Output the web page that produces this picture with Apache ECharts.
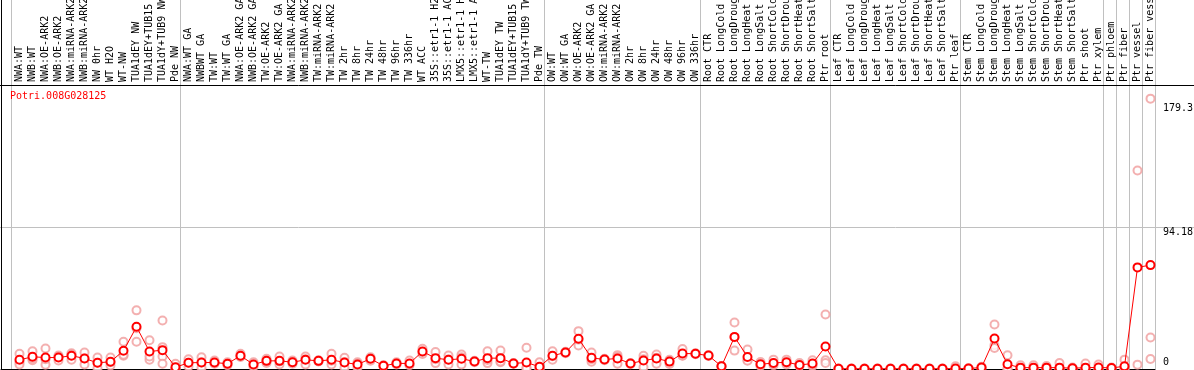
<!DOCTYPE html>
<html><head><meta charset="utf-8">
<script src="https://cdn.jsdelivr.net/npm/echarts@6/dist/echarts.min.js"></script>
<style>html,body{margin:0;padding:0;background:#fff}#c{width:1194px;height:370px}</style>
</head><body><div id="c"></div>
<script>
const geneId = 'Potri.008G028125';
const categories = [
  'NWA:WT','NWB:WT','NWA:OE-ARK2','NWB:OE-ARK2','NWA:miRNA-ARK2','NWB:miRNA-ARK2','NW 0hr','WT H2O','WT-NW','TUA1dEY NW','TUA1dEY+TUB15','TUA1dY+TUB9 NW','Pde NW',
  'NWA:WT GA','NWBWT GA','TW:WT','TW:WT GA','NWA:OE-ARK2 GA','NWB:OE-ARK2 GA','TW:OE-ARK2','TW:OE-ARK2 GA','NWA:miRNA-ARK2 GA','NWB:miRNA-ARK2 GA','TW:miRNA-ARK2','TW:miRNA-ARK2','TW 2hr','TW 8hr','TW 24hr','TW 48hr','TW 96hr','TW 336hr','WT ACC','35S::etr1-1 H2O','35S::etr1-1 ACC','LMX5::etr1-1 H2O','LMX5::etr1-1 ACC','WT-TW','TUA1dEY TW','TUA1dEY+TUB15','TUA1dY+TUB9 TW','Pde TW',
  'OW:WT','OW:WT GA','OW:OE-ARK2','OW:OE-ARK2 GA','OW:miRNA-ARK2','OW:miRNA-ARK2','OW 2hr','OW 8hr','OW 24hr','OW 48hr','OW 96hr','OW 336hr',
  'Root CTR','Root LongCold','Root LongDrought','Root LongHeat','Root LongSalt','Root ShortCold','Root ShortDrought','Root ShortHeat','Root ShortSalt','Ptr root',
  'Leaf CTR','Leaf LongCold','Leaf LongDrought','Leaf LongHeat','Leaf LongSalt','Leaf ShortCold','Leaf ShortDrought','Leaf ShortHeat','Leaf ShortSalt','Ptr leaf',
  'Stem CTR','Stem LongCold','Stem LongDrought','Stem LongHeat','Stem LongSalt','Stem ShortCold','Stem ShortDrought','Stem ShortHeat','Stem ShortSalt','Ptr shoot','Ptr xylem',
  'Ptr phloem','Ptr fiber','Ptr vessel','Ptr fiber vessel'
];
const groupStarts = [0,13,41,53,63,73,84,85,86,87,88];
const means = [
  6.1,8.1,7.6,7.6,8.8,7.0,4.1,4.8,12.1,28.0,11.6,12.5,1.2,
  4.1,4.3,4.3,3.5,8.8,3.0,5.4,5.4,4.5,6.1,5.4,6.1,4.3,3.0,6.8,2.1,3.7,3.7,11.6,7.2,6.1,6.8,5.0,7.2,7.2,3.7,4.3,1.5,
  8.8,11.0,20.1,7.4,6.3,7.0,3.6,5.6,7.0,4.9,10.3,10.1,
  8.9,1.8,21.3,8.0,3.1,4.0,4.5,2.7,3.6,14.9,
  0.2,0.2,0.2,0.2,0.2,0.2,0.2,0.2,0.2,0.3,
  0.3,1.0,20.2,3.1,0.9,0.9,0.9,0.9,0.5,0.9,1.0,
  0.7,1.8,67.4,68.9
];
const replicates = [
  [10.1,4.5,3.0],[11.8,5.8,7.0],[13.6,2.8,6.5],[9.0,5.6,8.2],[10.5,6.1,9.6],[11.0,3.0,7.0],[7.6,0.5,4.2],[7.6,2.3,4.5],[18.1,8.8,9.5],[38.9,18.1,27.0],[19.1,6.1,8.3],[32.2,14.5,8.3,3.5],[3.5,0.3,0.0],
  [6.5,1.7,4.1],[7.8,0.8,4.3],[5.6,3.5,4.0],[4.5,2.5,3.5],[10.1,8.0,8.5],[4.5,1.5,3.0],[6.8,4.0,5.4],[8.3,3.0,5.0],[5.6,3.5,4.5],[8.3,3.0,6.5],[5.8,5.0,5.4],[10.1,3.0,5.5],[7.4,0.8,4.5],[4.5,0.8,3.5],[7.8,5.5,7.0],[2.5,1.8,2.1],[4.5,3.0,3.7],[5.6,2.5,3.2],[13.4,10.0,11.5],[11.2,3.9,6.5],[9.0,3.0,6.3],[9.6,3.0,7.8],[5.5,4.5,5.0],[11.8,3.9,6.0],[12.2,4.5,5.0],[3.5,3.9,3.7],[14.1,0.8,0.3],[4.5,0.3,0.0],
  [11.8,6.1,8.5],[11.5,10.5,11.0],[25.1,15.6,19.5],[11.0,4.8,6.5],[6.8,5.8,6.3],[9.2,3.5,8.0],[3.8,3.2,3.6],[8.8,1.2,6.5],[9.6,3.5,7.5],[6.1,3.3,5.0],[13.2,8.8,9.0],[10.5,9.8,10.1],
  [9.2,8.6,8.9],[2.0,1.5,1.8],[30.8,12.2,21.0],[12.9,5.8,5.5],[4.7,2.0,2.7],[6.2,2.5,3.5],[6.2,3.0,4.2],[4.0,2.0,2.2],[5.8,2.0,3.0],[36.1,5.8,4.0],
  [0.3,0.1,0.2],[0.3,0.1,0.2],[0.3,0.1,0.2],[0.3,0.1,0.2],[0.3,0.1,0.2],[0.3,0.1,0.2],[0.3,0.1,0.2],[0.3,0.1,0.2],[0.3,0.1,0.2],[1.8,0.0,0.0],
  [0.5,0.2,0.2],[1.5,0.8,0.7],[29.5,15.7,14.0],[9.1,0.2,0.0],[2.5,0.2,0.0],[2.5,0.2,0.0],[2.0,0.5,0.2],[4.0,0.0,0.0],[1.0,0.3,0.2],[3.6,0.0,0.0],[3.0,0.0,0.0],
  [1.0,0.5,0.5],[6.2,0.0,0.0],[131.7,2.9],[179.3,20.9,6.6]
];
const yMax = 188.36;
const yGridStep = 94.18;
const yTickLabels = [0, 94.18, 179.3];

const FONT = 'DejaVu Sans Mono';
const GRAY = '#c0c0c0';
const chart = echarts.init(document.getElementById('c'), null, {renderer: 'canvas'});
const repData = [];
replicates.forEach((r, i) => r.forEach(v => repData.push([i, v])));
const hidden = {axisLine:{show:false}, axisTick:{show:false}, axisLabel:{show:false}, splitLine:{show:false}};
const blackLine = {show: true, onZero: false, lineStyle: {color: '#000', width: 1}};
const labelAxis = (vals, va, pad) => ({
  gridIndex: 0, type: 'value', min: 0, max: yMax, position: 'right',
  axisLine:{show:false}, axisTick:{show:false}, splitLine:{show:false},
  axisLabel:{customValues: vals, verticalAlign: va, padding: pad, margin: 6, fontFamily: FONT, fontSize: 10, color: '#000'}
});
const gridBase = {outerBoundsMode: 'none', containLabel: false};
chart.setOption({
  animation: false,
  backgroundColor: '#fff',
  title: {text: geneId, left: 10, top: 91, padding: 0, textStyle: {color: '#ff0000', fontFamily: FONT, fontSize: 10, fontWeight: 'normal'}},
  grid: [
    Object.assign({left: 13, right: 37, top: 85, bottom: 1}, gridBase),
    Object.assign({left: 11, right: 39, top: 0, bottom: 1}, gridBase),
    Object.assign({left: 1, right: 39, top: 0, bottom: 1}, gridBase),
    Object.assign({left: 0, right: 0, top: 85, bottom: 1}, gridBase)
  ],
  xAxis: [
    {gridIndex: 0, type: 'category', data: categories, position: 'top', boundaryGap: true,
     axisLine:{show:false}, axisTick:{show:false}, splitLine:{show:false},
     axisLabel:{interval: 0, rotate: 90, margin: 3, fontFamily: FONT, fontSize: 10, color: '#000'}},
    {gridIndex: 1, type: 'category', data: categories, boundaryGap: true,
     axisLine:{show:false}, axisTick:{show:false}, axisLabel:{show:false},
     splitLine:{show: true, interval: (i) => groupStarts.includes(i), lineStyle:{color: GRAY, width: 1}}},
    Object.assign({gridIndex: 2, type: 'value', min: 0, max: 1, position: 'bottom'}, hidden, {axisLine: blackLine}),
    Object.assign({gridIndex: 3, type: 'value', min: 0, max: 1, position: 'top'}, hidden, {axisLine: blackLine})
  ],
  yAxis: [
    labelAxis([yTickLabels[1]], 'top', [0,0,0,0]),
    labelAxis([yTickLabels[2]], 'top', [5,0,0,0]),
    labelAxis([yTickLabels[0]], 'bottom', [0,0,2,0]),
    Object.assign({gridIndex: 1, type: 'value', min: 0, max: 1, position: 'right'}, hidden, {axisLine:{show:true, onZero: false, lineStyle:{color: GRAY, width:1}}}),
    Object.assign({gridIndex: 2, type: 'value', min: 0, max: 1, position: 'left'}, hidden, {axisLine: blackLine}),
    Object.assign({gridIndex: 3, type: 'value', min: 0, max: yMax, interval: yGridStep}, hidden,
      {splitLine:{show:true, lineStyle:{color:['rgba(0,0,0,0)', GRAY, 'rgba(0,0,0,0)'], width:1}}})
  ],
  series: [
    {type: 'scatter', xAxisIndex: 0, yAxisIndex: 0, data: repData, symbol: 'emptyCircle', symbolSize: 8,
     itemStyle: {color: '#f09c9c', borderColor: '#f09c9c', borderWidth: 1.3}, z: 3, clip: false, silent: true},
    {type: 'line', xAxisIndex: 0, yAxisIndex: 0, data: means, symbol: 'emptyCircle', symbolSize: 8, showAllSymbol: true,
     lineStyle: {color: '#ff0000', width: 1}, itemStyle: {color: '#ff0000', borderColor: '#ff0000', borderWidth: 1.6}, z: 4, clip: false, silent: true}
  ]
});
</script></body></html>
